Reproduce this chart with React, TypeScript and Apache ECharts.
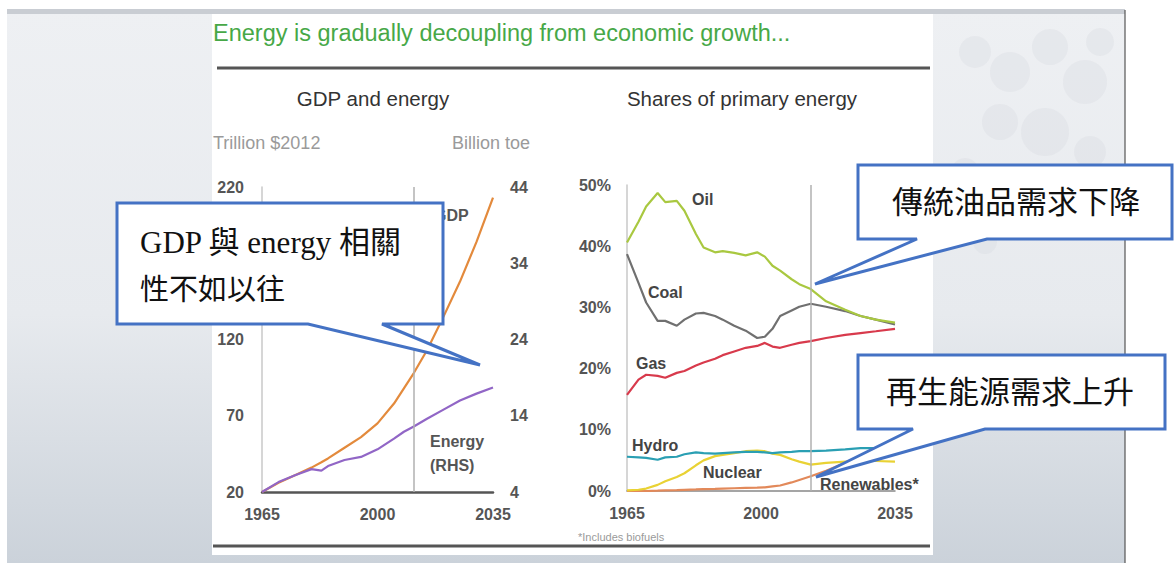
import React, { useEffect, useRef } from 'react';
import * as echarts from 'echarts';

// ---- Data ----
const gdpYears = [1965, 1970, 1975, 1980, 1983, 1985, 1990, 1995, 2000, 2005, 2008, 2011, 2015, 2020, 2025, 2030, 2035];
const gdpTrillion = [20, 26, 31, 36, 39.5, 42, 49, 56, 65, 78, 88, 98, 113, 135, 158, 184, 213];
const energyBtoe = [4, 5.3, 6.2, 7.0, 6.8, 7.4, 8.2, 8.6, 9.6, 11.0, 11.9, 12.6, 13.6, 14.8, 16.0, 16.9, 17.7];

const shareYears = [1965, 1968, 1970, 1973, 1975, 1978, 1980, 1983, 1985, 1988, 1990, 1993, 1996, 1999, 2001, 2003, 2005, 2008, 2010, 2013, 2017, 2022, 2026, 2030, 2035];
const oilShare = [40.6, 44, 46.5, 48.7, 47.2, 47.4, 45.8, 42, 39.8, 39, 39.2, 38.9, 38.5, 39, 38.3, 36.8, 36, 34.6, 33.8, 33, 31, 29.6, 28.6, 28, 27.5];
const coalShare = [38.7, 34, 30.8, 27.8, 27.8, 27, 28, 29, 29.1, 28.6, 28, 27, 26.2, 25, 25.2, 26.5, 28.6, 29.5, 30.1, 30.6, 30.1, 29.4, 28.6, 28, 27.2];
const gasShare = [15.7, 18.2, 19, 18.8, 18.5, 19.3, 19.6, 20.5, 21, 21.6, 22.2, 22.8, 23.4, 23.7, 24.2, 23.6, 23.4, 23.9, 24.2, 24.5, 25, 25.5, 25.8, 26.1, 26.5];
const hydroShare = [5.6, 5.5, 5.4, 5.1, 5.5, 5.6, 6, 6.3, 6.2, 6.1, 6.2, 6.3, 6.4, 6.4, 6.3, 6.2, 6.3, 6.4, 6.5, 6.5, 6.6, 6.8, 7.0, 7.0, 7.0];
const nuclearShare = [0.1, 0.2, 0.4, 1.0, 1.6, 2.3, 2.9, 4.2, 5.0, 5.7, 5.9, 6.2, 6.5, 6.6, 6.5, 6.1, 5.9, 5.2, 4.8, 4.3, 4.6, 4.8, 4.9, 4.9, 4.8];
const renewShare = [0, 0, 0, 0.05, 0.1, 0.15, 0.2, 0.25, 0.3, 0.35, 0.4, 0.45, 0.5, 0.55, 0.6, 0.75, 0.9, 1.4, 1.8, 2.4, 3.3, 4.6, 5.6, 6.5, 7.5];

// 170 is hidden behind the callout in the reference, so only the visible GDP ticks are labelled
const gdpTicks = [20, 70, 120, 220];
const energyTicks = [4, 14, 24, 34, 44];
const yearTicks = [1965, 2000, 2035];
const leftDivider = 2011;
const rightDivider = 2013;

const SANS = '"Liberation Sans", Arial, Helvetica, sans-serif';
const CALLOUT_FONT = '"Liberation Serif", "Noto Sans CJK TC", serif';

function pairs(xs: number[], ys: number[]) {
  return xs.map((x, i) => [x, ys[i]]);
}

export default function App() {
  const ref = useRef<HTMLDivElement>(null);

  useEffect(() => {
    const chart = echarts.init(ref.current!, null, { renderer: 'svg' });

    const axisLabelStyle = { color: '#555', fontSize: 16, fontWeight: 'bold' as const, fontFamily: SANS };

    const lineSeries = (name: string, xi: number, yi: number, data: number[][], color: string, extra: any = {}) => ({
      name,
      type: 'line',
      xAxisIndex: xi,
      yAxisIndex: yi,
      data,
      showSymbol: false,
      symbol: 'none',
      lineStyle: { color, width: 2.2 },
      z: 3,
      silent: true,
      ...extra,
    });

    const divider = (x: number) => ({
      symbol: 'none',
      silent: true,
      label: { show: false },
      lineStyle: { color: '#b0b0b0', width: 1.5, type: 'solid' },
      data: [{ xAxis: x }],
    });

    const txt = (text: string, x: number, y: number, opts: any = {}) => ({
      type: 'text',
      z: opts.z ?? 10,
      style: {
        text,
        x,
        y,
        fill: opts.fill ?? '#444',
        fontSize: opts.fontSize ?? 16,
        fontFamily: opts.fontFamily ?? SANS,
        fontWeight: opts.fontWeight ?? 'normal',
        align: opts.align ?? 'left',
        textAlign: opts.align ?? 'left',
        verticalAlign: 'middle',
        textVerticalAlign: 'middle',
      },
    });

    const callout = (pts: number[][]) => ({
      type: 'polygon',
      z: 50,
      shape: { points: pts },
      style: { fill: '#ffffff', stroke: '#4472c4', lineWidth: 3, lineJoin: 'miter' },
    });

    const bubbles = [
      [975, 40, 16], [1010, 60, 20], [1050, 35, 18], [1085, 70, 22], [1000, 110, 18],
      [1045, 120, 24], [1090, 140, 16], [965, 160, 14], [1020, 175, 20], [1070, 195, 14],
      [1100, 30, 14], [985, 230, 12],
    ];

    const option: any = {
      animation: false,
      backgroundColor: '#ffffff',
      grid: [
        { left: 262, top: 187, width: 231, height: 305 },
        { left: 627, top: 185, width: 268, height: 306 },
      ],
      xAxis: [
        {
          type: 'value', gridIndex: 0, min: 1965, max: 2035,
          axisLine: { show: true, lineStyle: { color: '#555', width: 2.5 } },
          axisTick: { show: false },
          splitLine: { show: false },
          axisLabel: { ...axisLabelStyle, margin: 14, customValues: yearTicks, formatter: (v: number) => String(v) },
        },
        {
          type: 'value', gridIndex: 1, min: 1965, max: 2035,
          axisLine: { show: true, lineStyle: { color: '#888', width: 1.5 } },
          axisTick: { show: false },
          splitLine: { show: false },
          axisLabel: { ...axisLabelStyle, margin: 14, customValues: yearTicks, formatter: (v: number) => String(v) },
        },
      ],
      yAxis: [
        {
          type: 'value', gridIndex: 0, position: 'left', min: 20, max: 220,
          axisLine: { show: true, lineStyle: { color: '#c8c8c8', width: 1.5 } },
          axisTick: { show: false },
          splitLine: { show: false },
          axisLabel: { ...axisLabelStyle, margin: 18, customValues: gdpTicks },
        },
        {
          type: 'value', gridIndex: 0, position: 'right', min: 4, max: 44,
          axisLine: { show: false },
          axisTick: { show: false },
          splitLine: { show: false },
          axisLabel: { ...axisLabelStyle, margin: 17, customValues: energyTicks },
        },
        {
          type: 'value', gridIndex: 1, min: 0, max: 50, interval: 10,
          axisLine: { show: true, lineStyle: { color: '#c8c8c8', width: 1.5 } },
          axisTick: { show: false },
          splitLine: { show: false },
          axisLabel: { ...axisLabelStyle, margin: 16, formatter: '{value}%' },
        },
      ],
      series: [
        lineSeries('GDP', 0, 0, pairs(gdpYears, gdpTrillion), '#e38a3c', { markLine: divider(leftDivider) }),
        lineSeries('Energy', 0, 1, pairs(gdpYears, energyBtoe), '#9166c6'),
        lineSeries('Renewables', 1, 2, pairs(shareYears, renewShare), '#e2895a', { markLine: divider(rightDivider) }),
        lineSeries('Nuclear', 1, 2, pairs(shareYears, nuclearShare), '#e9d234'),
        lineSeries('Hydro', 1, 2, pairs(shareYears, hydroShare), '#2a9fb3'),
        lineSeries('Gas', 1, 2, pairs(shareYears, gasShare), '#d83a4c'),
        lineSeries('Coal', 1, 2, pairs(shareYears, coalShare), '#707070'),
        lineSeries('Oil', 1, 2, pairs(shareYears, oilShare), '#a9c840'),
      ],
      graphic: [
        // page backdrop
        {
          type: 'rect', z: -20, silent: true,
          shape: { x: 7, y: 10, width: 1118, height: 553 },
          style: {
            fill: new echarts.graphic.LinearGradient(0, 0, 0, 1, [
              { offset: 0, color: '#eef0f3' },
              { offset: 0.55, color: '#e7eaee' },
              { offset: 1, color: '#cbd2da' },
            ]),
          },
        },
        { type: 'rect', z: -19, silent: true, shape: { x: 7, y: 9, width: 1118, height: 5 }, style: { fill: '#c9cdd3' } },
        ...bubbles.map(([cx, cy, r]) => ({
          type: 'circle', z: -18, silent: true,
          shape: { cx, cy: cy + 12, r },
          style: { fill: '#d3d8df', opacity: 0.3 },
        })),
        { type: 'line', z: -17, silent: true, shape: { x1: 1125, y1: 10, x2: 1125, y2: 563 }, style: { stroke: '#555', lineWidth: 1.2 } },
        // white chart panel
        { type: 'rect', z: -15, silent: true, shape: { x: 212, y: 14, width: 721, height: 541 }, style: { fill: '#ffffff' } },
        // title and rules
        txt('Energy is gradually decoupling from economic growth...', 213, 33, { fill: '#47a847', fontSize: 23.5 }),
        { type: 'line', z: 5, silent: true, shape: { x1: 217, y1: 68, x2: 930, y2: 68 }, style: { stroke: '#555', lineWidth: 3 } },
        { type: 'line', z: 5, silent: true, shape: { x1: 213, y1: 546, x2: 930, y2: 546 }, style: { stroke: '#555', lineWidth: 3 } },
        // panel headings
        txt('GDP and energy', 373, 98, { align: 'center', fontSize: 20.5, fill: '#333' }),
        txt('Shares of primary energy', 742, 98, { align: 'center', fontSize: 20.5, fill: '#333' }),
        txt('Trillion $2012', 213, 143, { fontSize: 18, fill: '#9a9a9a' }),
        txt('Billion toe', 530, 143, { align: 'right', fontSize: 18, fill: '#9a9a9a' }),
        // series labels
        txt('GDP', 434, 215, { fontSize: 16, fill: '#555', fontWeight: 'bold' }),
        txt('Energy', 430, 441, { fontSize: 16, fill: '#555', fontWeight: 'bold' }),
        txt('(RHS)', 430, 465, { fontSize: 16, fill: '#555', fontWeight: 'bold' }),
        txt('Oil', 692, 199, { fontSize: 16, fill: '#444', fontWeight: 'bold' }),
        txt('Coal', 648, 292, { fontSize: 16, fill: '#444', fontWeight: 'bold' }),
        txt('Gas', 636, 363, { fontSize: 16, fill: '#444', fontWeight: 'bold' }),
        txt('Hydro', 632, 445, { fontSize: 16, fill: '#444', fontWeight: 'bold' }),
        txt('Nuclear', 703, 472, { fontSize: 16, fill: '#444', fontWeight: 'bold' }),
        txt('Renewables*', 820, 484, { fontSize: 16, fill: '#444', fontWeight: 'bold' }),
        txt('*Includes biofuels', 578, 537, { fontSize: 11, fill: '#9a9a9a' }),
        // callouts
        callout([[117, 203], [443, 203], [443, 324], [382, 324], [480, 365], [308, 324], [117, 324]]),
        txt('GDP 與 energy 相關', 140, 242, { fontSize: 31, fill: '#111', fontFamily: CALLOUT_FONT, z: 60 }),
        txt('性不如以往', 140, 290, { fontSize: 29, fill: '#111', fontFamily: CALLOUT_FONT, z: 60 }),
        callout([[858, 165], [1172, 165], [1172, 239], [987, 239], [815, 284], [917, 239], [858, 239]]),
        txt('傳統油品需求下降', 1016, 202, { align: 'center', fontSize: 31, fill: '#111', fontFamily: CALLOUT_FONT, z: 60 }),
        callout([[858, 355], [1165, 355], [1165, 429], [985, 429], [816, 477], [913, 429], [858, 429]]),
        txt('再生能源需求上升', 1010, 392, { align: 'center', fontSize: 31, fill: '#111', fontFamily: CALLOUT_FONT, z: 60 }),
      ],
    };

    chart.setOption(option);
    return () => chart.dispose();
  }, []);

  return <div ref={ref} style={{ position: 'fixed', left: 0, top: 0, width: 1175, height: 563 }} />;
}
